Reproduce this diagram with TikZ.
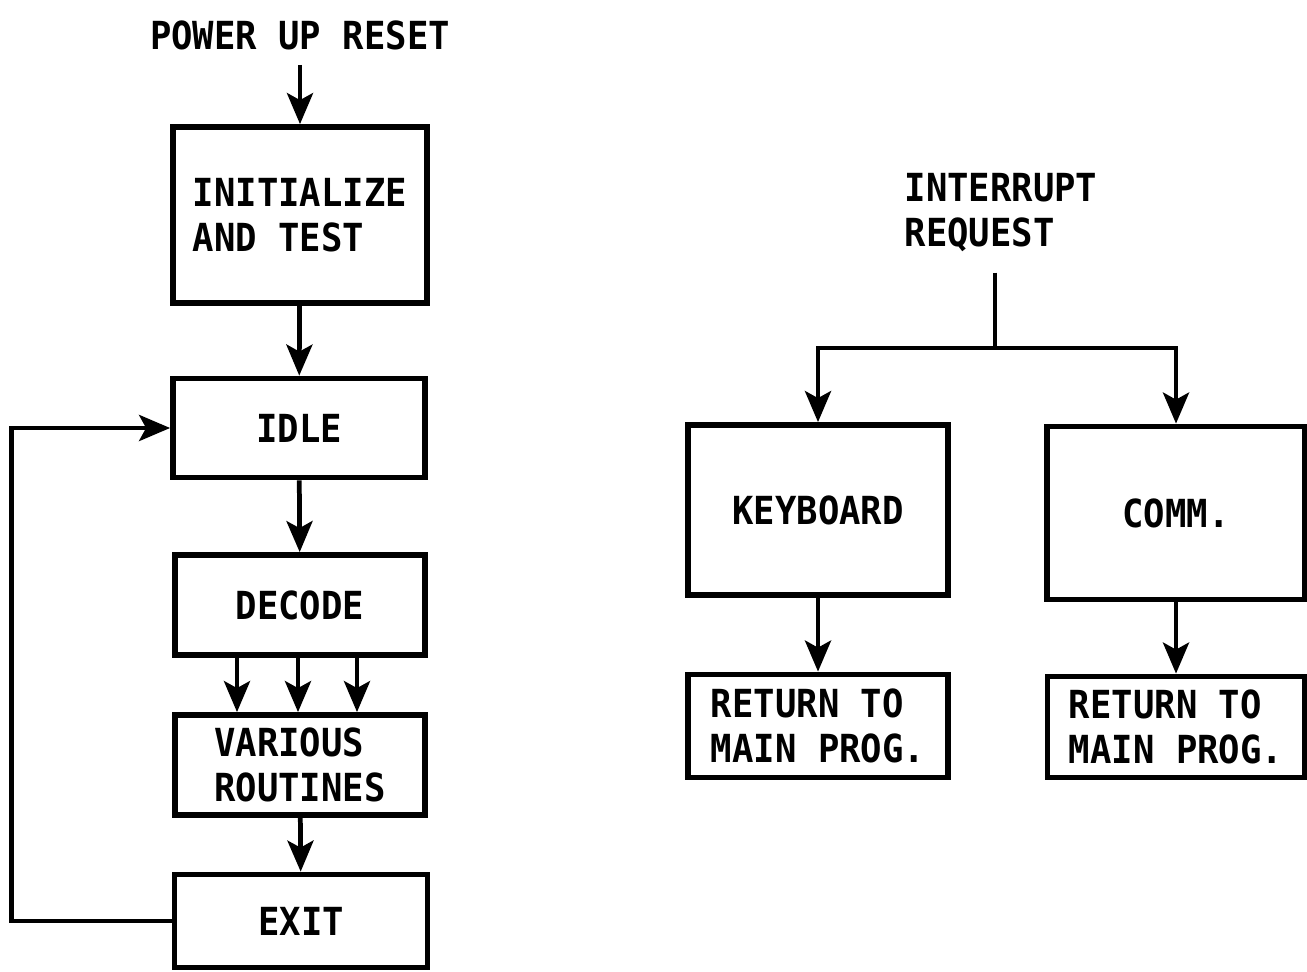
\documentclass[tikz,border=0pt]{standalone}
\usepackage{fontspec}
\usetikzlibrary{arrows.meta}
\newfontfamily\chartfont[FakeStretch = 0.92]{DejaVu Sans Mono}

\begin{document}
\begin{tikzpicture}[x = 0.02cm, y = -0.02cm]
	\tikzstyle{TextStyle} = [font = \chartfont\bfseries\fontsize{22}{25.6}\selectfont, align = left, inner sep = 0pt]
	\tikzstyle{BoxStyle} = [TextStyle, shape = rectangle, draw, line width = 3.3pt]
	\tikzstyle{ArrowStyle} = [line width = 2.7pt, -{Stealth[length = 0.62cm, width = 0.52cm, inset = 0.14cm]}]
	\tikzstyle{LineStyle} = [line width = 2.7pt]
	\useasboundingbox (0, 0) rectangle (1307, 972);
	% main program
	\node[TextStyle] (power) at (300, 35) {POWER UP RESET};
	\node[BoxStyle, minimum width = 5.08cm, minimum height = 3.52cm] (init) at (300, 215) {INITIALIZE\\AND TEST};
	\node[BoxStyle, minimum width = 5.04cm, minimum height = 1.98cm] (idle) at (299, 428) {IDLE};
	\node[BoxStyle, minimum width = 5.00cm, minimum height = 2.00cm] (decode) at (300, 605) {DECODE};
	\node[BoxStyle, minimum width = 5.00cm, minimum height = 2.00cm] (various) at (300, 765) {VARIOUS\\ROUTINES};
	\node[BoxStyle, minimum width = 5.06cm, minimum height = 1.86cm] (exit) at (301, 921) {EXIT};
	\draw[ArrowStyle, shorten <= 0.3cm] (power) -- (init);
	\draw[ArrowStyle] (init) -- (idle);
	\draw[ArrowStyle] (idle) -- (decode);
	\foreach \dx in {-63, -2, 57}
		\draw[ArrowStyle] ([xshift = \dx*0.02cm]decode.south) -- ([xshift = \dx*0.02cm]various.north);
	\draw[ArrowStyle] (various) -- (exit);
	\draw[ArrowStyle] (exit.west) -- ++(-160, 0) |- (idle.west);
	% interrupt
	\node[TextStyle] (irq) at (1001, 213) {INTERRUPT\\REQUEST};
	\coordinate (split) at (995, 348);
	\node[BoxStyle, minimum width = 5.20cm, minimum height = 3.40cm] (kbd) at (818, 510) {KEYBOARD};
	\node[BoxStyle, minimum width = 5.16cm, minimum height = 3.46cm] (comm) at (1176, 513) {COMM.};
	\node[BoxStyle, minimum width = 5.20cm, minimum height = 2.06cm] (ret1) at (818, 726) {RETURN TO\\MAIN PROG.};
	\node[BoxStyle, minimum width = 5.14cm, minimum height = 2.02cm] (ret2) at (1176, 727) {RETURN TO\\MAIN PROG.};
	\draw[LineStyle, shorten <= 0.4cm] (irq.south -| split) -- (split);
	\draw[ArrowStyle] (split) -| (kbd);
	\draw[ArrowStyle] (split) -| (comm);
	\draw[ArrowStyle] (kbd) -- (ret1);
	\draw[ArrowStyle] (comm) -- (ret2);
\end{tikzpicture}
\end{document}
